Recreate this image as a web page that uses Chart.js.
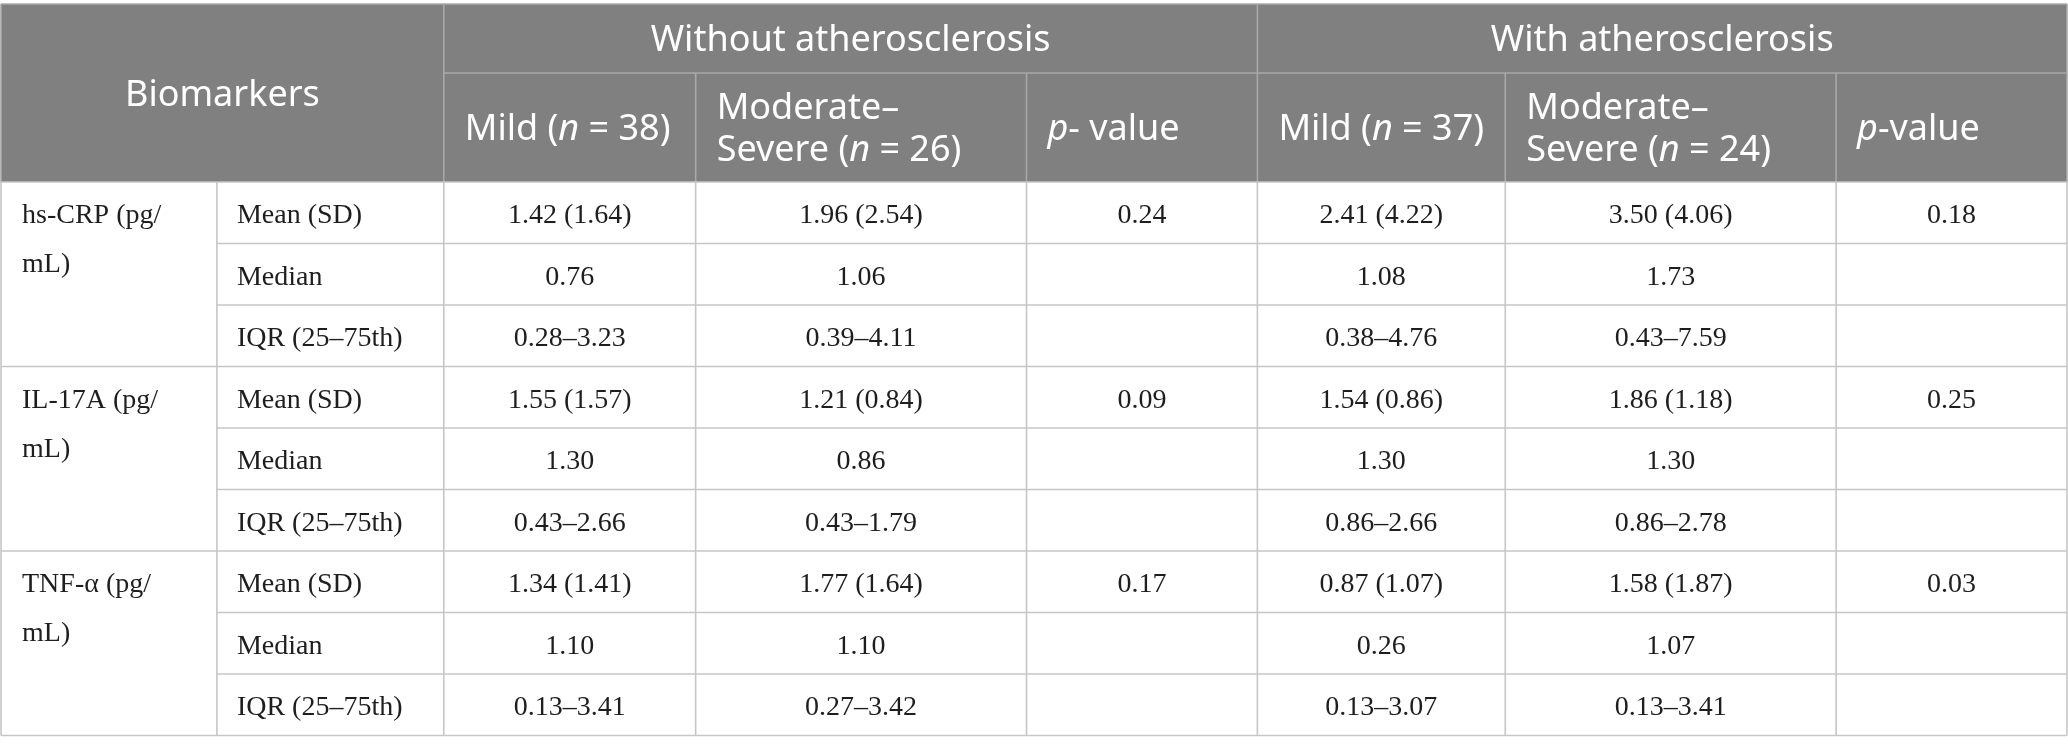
<!DOCTYPE html>
<html>
<head>
<meta charset="utf-8">
<script src="https://cdn.jsdelivr.net/npm/chart.js@4.4.1/dist/chart.umd.min.js"></script>
<style>
html, body { margin: 0; padding: 0; background: #fff; }
</style>
</head>
<body>
<canvas id="biomarkerTable" width="2068" height="754"></canvas>
<script>
'use strict';

// table content
const biomarkers = [['hs-CRP (pg/', 'mL)'], ['IL-17A (pg/', 'mL)'], ['TNF-α (pg/', 'mL)']];
const statistics = ['Mean (SD)', 'Median', 'IQR (25–75th)'];
const groups = ['Without atherosclerosis', 'With atherosclerosis'];
const severities = ['Mild', 'Moderate–Severe'];
const groupN = [38, 26, 37, 24];
const pValueHeads = ['p- value', 'p-value'];

const noAthMild = ['1.42 (1.64)', '0.76', '0.28–3.23', '1.55 (1.57)', '1.30', '0.43–2.66', '1.34 (1.41)', '1.10', '0.13–3.41'];
const noAthModSev = ['1.96 (2.54)', '1.06', '0.39–4.11', '1.21 (0.84)', '0.86', '0.43–1.79', '1.77 (1.64)', '1.10', '0.27–3.42'];
const noAthP = ['0.24', '0.09', '0.17'];
const athMild = ['2.41 (4.22)', '1.08', '0.38–4.76', '1.54 (0.86)', '1.30', '0.86–2.66', '0.87 (1.07)', '0.26', '0.13–3.07'];
const athModSev = ['3.50 (4.06)', '1.73', '0.43–7.59', '1.86 (1.18)', '1.30', '0.86–2.78', '1.58 (1.87)', '1.07', '0.13–3.41'];
const athP = ['0.18', '0.25', '0.03'];

// layout
const colWidths = [216, 227, 252, 331, 231, 248, 331, 231];
const headHeights = [69, 109];
const bodyRowHeight = 61.5;

function cumulate(list) {
    const out = [0];
    list.forEach(v => out.push(out[out.length - 1] + v));
    return out;
}
const colEdges = cumulate(colWidths);
const rowEdges = cumulate(headHeights.concat(new Array(9).fill(bodyRowHeight)));

const HEAD_FONT = '"Noto Sans", sans-serif';
const BODY_FONT = '"Liberation Serif", "Times New Roman", serif';

// "n" and leading "p" are set in italics
function nLabel(name, n) {
    return [{t: name + ' ('}, {t: 'n', i: true}, {t: ' = ' + n + ')'}];
}
function pLabel(txt) {
    return [{t: txt[0], i: true}, {t: txt.slice(1)}];
}
function subHeader(g) {
    const mod = severities[1].split('–');
    return [
        [nLabel(severities[0], groupN[g * 2])],
        [[{t: mod[0] + '–'}], nLabel(mod[1], groupN[g * 2 + 1])],
        [pLabel(pValueHeads[g])]
    ];
}

function drawRich(ctx, segs, x, y, size, align) {
    let total = 0;
    segs.forEach(s => {
        ctx.font = (s.i ? 'italic ' : '') + size + 'px ' + HEAD_FONT;
        s.w = ctx.measureText(s.t).width;
        total += s.w;
    });
    let cx = align === 'center' ? x - total / 2 : x;
    ctx.textAlign = 'left';
    segs.forEach(s => {
        ctx.font = (s.i ? 'italic ' : '') + size + 'px ' + HEAD_FONT;
        ctx.fillText(s.t, cx, y);
        cx += s.w;
    });
}

const tablePlugin = {
    id: 'tableDraw',
    afterDraw(chart) {
        const ctx = chart.ctx;
        const xs = chart.scales.x, ys = chart.scales.y;
        const X = i => xs.getPixelForValue(colEdges[i]);
        const Y = j => ys.getPixelForValue(rowEdges[j]);
        const last = colEdges.length - 1;
        const bottom = rowEdges.length - 1;

        ctx.save();
        // header background
        ctx.fillStyle = '#808080';
        ctx.fillRect(X(0), Y(0), X(last) - X(0), Y(2) - Y(0));

        function line(x1, y1, x2, y2, color) {
            ctx.strokeStyle = color;
            ctx.lineWidth = 1.6;
            ctx.beginPath();
            ctx.moveTo(x1, y1);
            ctx.lineTo(x2, y2);
            ctx.stroke();
        }
        const headLine = '#a8a8a8', bodyLine = '#c6c6c6';
        line(X(0), Y(0), X(last), Y(0), headLine);
        line(X(2), Y(1), X(last), Y(1), headLine);
        [2, 5].forEach(c => line(X(c), Y(0), X(c), Y(2), headLine));
        [3, 4, 6, 7].forEach(c => line(X(c), Y(1), X(c), Y(2), headLine));
        line(X(0), Y(0), X(0), Y(2), headLine);
        line(X(last), Y(0), X(last), Y(2), headLine);

        for (let r = 0; r <= 9; r++) {
            const startCol = r % 3 === 0 ? 0 : 1;
            line(X(startCol), Y(2 + r), X(last), Y(2 + r), bodyLine);
        }
        for (let c = 0; c <= last; c++) {
            line(X(c), Y(2), X(c), Y(bottom), bodyLine);
        }

        // header text
        const hs = 36;
        ctx.fillStyle = '#ffffff';
        ctx.textBaseline = 'alphabetic';
        const capH = hs * 0.36;
        drawRich(ctx, [{t: 'Biomarkers'}], (X(0) + X(2)) / 2, (Y(0) + Y(2)) / 2 + capH, hs, 'center');
        groups.forEach((g, gi) => {
            const c0 = 2 + gi * 3;
            drawRich(ctx, [{t: g}], (X(c0) + X(c0 + 3)) / 2, (Y(0) + Y(1)) / 2 + capH, hs, 'center');
            subHeader(gi).forEach((lines, k) => {
                const c = c0 + k;
                const mid = (Y(1) + Y(2)) / 2;
                const step = 42;
                lines.forEach((segs, li) => {
                    const yy = mid + (li - (lines.length - 1) / 2) * step + capH;
                    drawRich(ctx, segs, X(c) + 21, yy, hs, 'left');
                });
            });
        });

        // body text
        const bs = 28;
        ctx.fillStyle = '#1e1e1e';
        ctx.font = bs + 'px ' + BODY_FONT;
        const rowMid = r => (Y(2 + r) + Y(3 + r)) / 2 + 10.5;
        ctx.textAlign = 'left';
        biomarkers.forEach((lines, b) => {
            lines.forEach((ln, li) => ctx.fillText(ln, X(0) + 21, rowMid(b * 3) + li * 49));
            statistics.forEach((s, k) => ctx.fillText(s, X(1) + 20, rowMid(b * 3 + k)));
        });
        ctx.textAlign = 'center';
        const cols = [noAthMild, noAthModSev, null, athMild, athModSev, null];
        const pCols = {4: noAthP, 7: athP};
        cols.forEach((vals, k) => {
            const c = 2 + k;
            const cx = (X(c) + X(c + 1)) / 2;
            if (vals) {
                vals.forEach((v, r) => ctx.fillText(v, cx, rowMid(r)));
            } else {
                pCols[c].forEach((v, b) => ctx.fillText(v, cx, rowMid(b * 3)));
            }
        });
        ctx.restore();
    }
};

new Chart('biomarkerTable', {
    type: 'scatter',
    data: { datasets: [{ data: [], pointRadius: 0 }] },
    options: {
        responsive: false,
        devicePixelRatio: 1,
        animation: false,
        layout: { padding: { left: 1, right: 1, top: 4, bottom: 754 - 4 - rowEdges[rowEdges.length - 1] } },
        plugins: { legend: { display: false }, tooltip: { enabled: false } },
        scales: {
            x: { type: 'linear', display: false, min: 0, max: colEdges[colEdges.length - 1] },
            y: { type: 'linear', display: false, reverse: true, min: 0, max: rowEdges[rowEdges.length - 1] }
        }
    },
    plugins: [tablePlugin]
});
</script>
</body>
</html>
